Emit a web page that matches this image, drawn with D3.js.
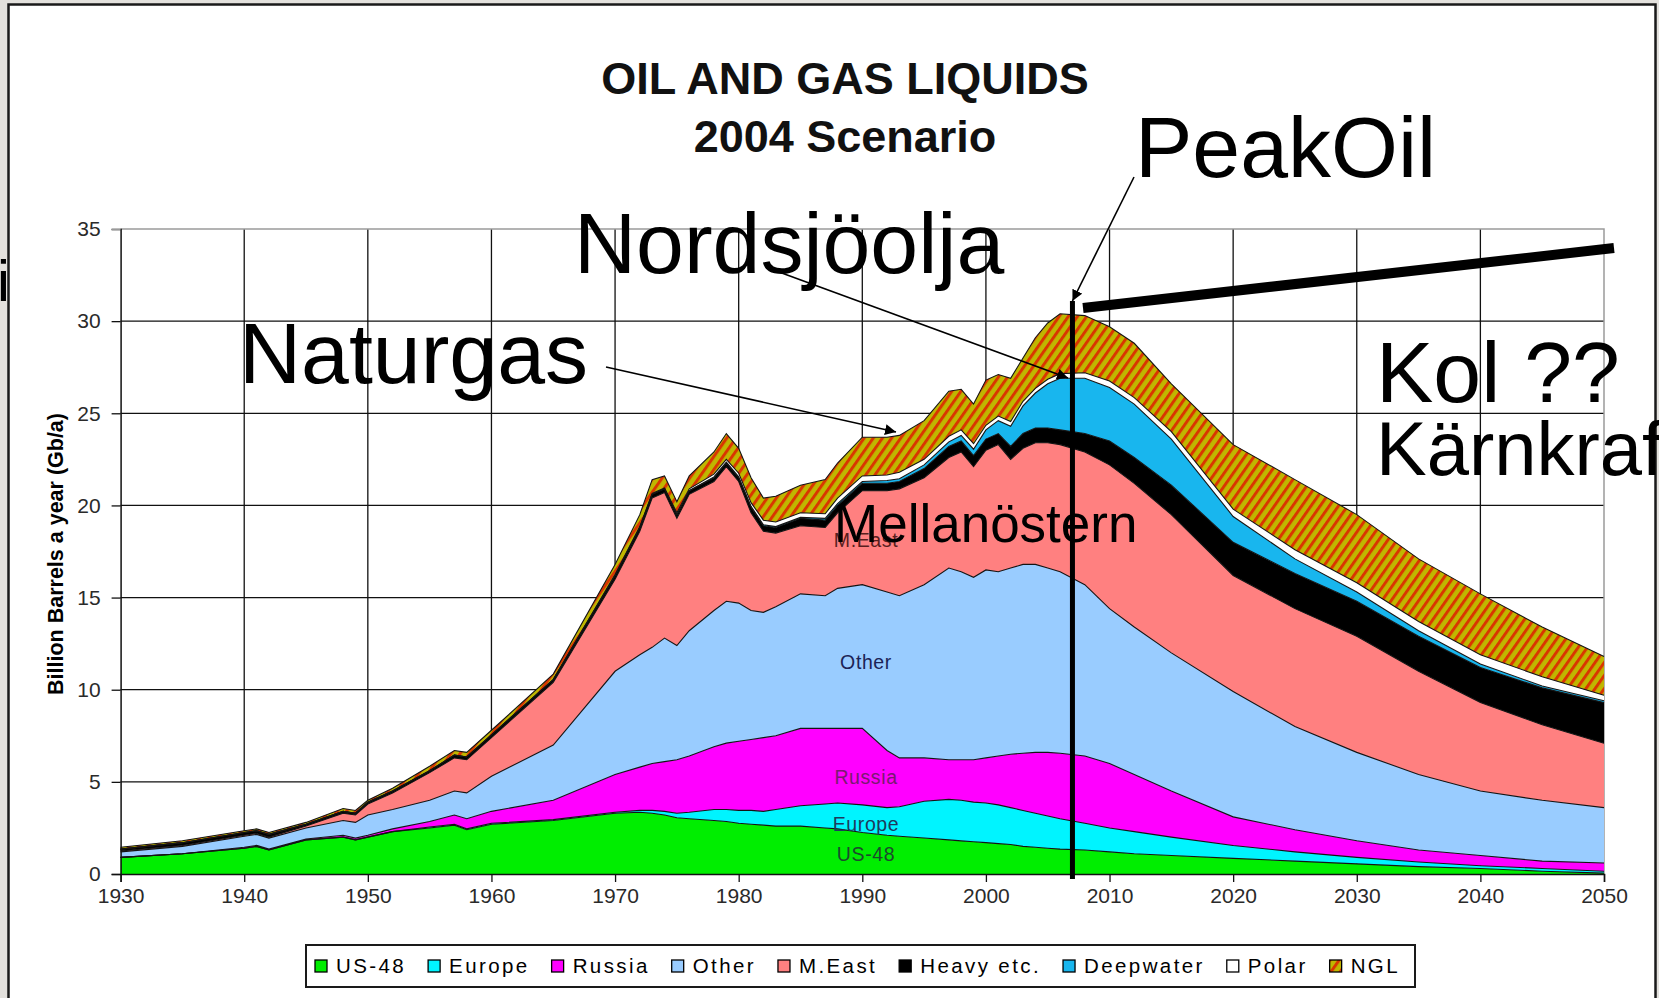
<!DOCTYPE html>
<html>
<head>
<meta charset="utf-8">
<script src="https://cdn.jsdelivr.net/npm/d3@7"></script>
<style>
  body { margin: 0; background: #e3e1dd; }
  svg { display: block; font-family: "Liberation Sans", Arial, sans-serif; }
</style>
</head>
<body>
<div id="chart"></div>
<script>
// Years (irregular steps where the curves are jagged)
const years = [1930, 1935, 1940, 1941, 1942, 1945, 1948, 1949, 1950, 1952, 1955, 1957, 1958, 1960, 1965,
    1970, 1972, 1973, 1974, 1975, 1976, 1978, 1979, 1980, 1981, 1982, 1983, 1985, 1987, 1988, 1990,
    1992, 1993, 1995, 1997, 1998, 1999, 2000, 2001, 2002, 2003, 2004, 2005, 2006, 2008, 2010, 2012,
    2015, 2020, 2025, 2030, 2035, 2040, 2045, 2050];

// Gb/a per region, bottom to top of the stack
const us48 = [0.9, 1.1, 1.4, 1.5, 1.3, 1.85, 2.0, 1.85, 2.0, 2.3, 2.5, 2.65, 2.4, 2.7, 2.9,
    3.3, 3.35, 3.3, 3.2, 3.05, 3.0, 2.9, 2.85, 2.75, 2.7, 2.65, 2.6, 2.6, 2.5, 2.45, 2.25,
    2.1, 2.05, 1.95, 1.85, 1.8, 1.75, 1.7, 1.65, 1.6, 1.5, 1.45, 1.4, 1.35, 1.3, 1.2, 1.1,
    1.0, 0.85, 0.7, 0.55, 0.4, 0.3, 0.15, 0.05];
const europe = [0, 0, 0, 0, 0, 0, 0, 0, 0, 0, 0.05, 0.05, 0.05, 0.05, 0.05,
    0.05, 0.1, 0.15, 0.2, 0.25, 0.35, 0.6, 0.65, 0.7, 0.75, 0.75, 0.9, 1.1, 1.3, 1.4, 1.5,
    1.5, 1.6, 2.0, 2.2, 2.2, 2.15, 2.15, 2.1, 2.0, 1.95, 1.85, 1.75, 1.65, 1.45, 1.3, 1.2,
    1.0, 0.7, 0.5, 0.35, 0.25, 0.15, 0.15, 0.1];
const russia = [0, 0, 0.05, 0.05, 0.05, 0.05, 0.1, 0.1, 0.1, 0.15, 0.3, 0.5, 0.55, 0.65, 1.05,
    2.05, 2.35, 2.55, 2.7, 2.9, 3.05, 3.4, 3.6, 3.75, 3.85, 4.0, 4.0, 4.2, 4.1, 4.05, 4.15,
    3.1, 2.65, 2.35, 2.15, 2.2, 2.3, 2.45, 2.65, 2.9, 3.1, 3.3, 3.45, 3.55, 3.65, 3.5, 3.1,
    2.5, 1.55, 1.2, 0.9, 0.65, 0.55, 0.4, 0.45];
const other = [0.3, 0.4, 0.6, 0.6, 0.6, 0.6, 0.8, 0.85, 1.1, 1.05, 1.15, 1.3, 1.4, 1.9, 3.0,
    5.6, 6.1, 6.3, 6.7, 6.2, 6.8, 7.4, 7.7, 7.5, 7.0, 6.8, 7.0, 7.3, 7.2, 7.6, 7.8,
    8.6, 8.8, 9.4, 10.4, 10.2, 9.9, 10.2, 10.0, 10.1, 10.25, 10.2, 10.0, 9.85, 9.3, 8.4, 8.0,
    7.5, 6.8, 5.6, 4.8, 4.1, 3.5, 3.3, 3.0];
const mEast = [0.05, 0.05, 0.05, 0.05, 0.05, 0.1, 0.4, 0.4, 0.6, 0.9, 1.5, 1.8, 1.8, 2.1, 3.4,
    5.0, 6.7, 8.1, 7.9, 6.9, 7.4, 7.0, 7.3, 6.6, 5.3, 4.4, 4.0, 3.7, 3.7, 4.1, 5.1,
    5.5, 5.8, 5.8, 6.0, 6.5, 6.0, 6.5, 6.9, 5.9, 6.3, 6.6, 6.8, 6.9, 7.2, 7.8, 7.8,
    7.5, 6.3, 6.4, 6.3, 5.6, 4.8, 4.1, 3.5];
const heavy = [0.1, 0.15, 0.15, 0.15, 0.15, 0.1, 0.1, 0.1, 0.1, 0.1, 0.1, 0.15, 0.15, 0.15, 0.15,
    0.2, 0.2, 0.2, 0.2, 0.2, 0.2, 0.2, 0.2, 0.2, 0.3, 0.3, 0.3, 0.4, 0.4, 0.4, 0.4,
    0.4, 0.4, 0.5, 0.6, 0.6, 0.6, 0.6, 0.6, 0.7, 0.8, 0.8, 0.8, 0.8, 1.0, 1.3, 1.4,
    1.6, 1.8, 1.9, 1.9, 1.9, 1.9, 2.0, 2.2];
const deepwater = [0, 0, 0, 0, 0, 0, 0, 0, 0, 0, 0, 0, 0, 0, 0,
    0, 0, 0, 0, 0, 0, 0.05, 0.05, 0.05, 0.05, 0.05, 0.05, 0.05, 0.1, 0.1, 0.1,
    0.15, 0.15, 0.2, 0.25, 0.3, 0.35, 0.5, 0.7, 1.1, 1.5, 1.9, 2.4, 2.8, 3.0, 2.9, 2.9,
    2.5, 1.4, 0.8, 0.5, 0.3, 0.2, 0.1, 0.1];
const polar = [0, 0, 0, 0, 0, 0, 0, 0, 0, 0, 0, 0, 0, 0, 0,
    0.05, 0.05, 0.05, 0.05, 0.1, 0.1, 0.15, 0.15, 0.2, 0.2, 0.25, 0.25, 0.25, 0.25, 0.3, 0.3,
    0.3, 0.35, 0.3, 0.3, 0.3, 0.3, 0.25, 0.25, 0.25, 0.25, 0.25, 0.25, 0.25, 0.3, 0.35, 0.35,
    0.4, 0.4, 0.5, 0.5, 0.5, 0.5, 0.5, 0.3];
const ngl = [0.1, 0.1, 0.1, 0.1, 0.1, 0.1, 0.15, 0.15, 0.1, 0.15, 0.25, 0.25, 0.25, 0.25, 0.3,
    0.55, 0.65, 0.75, 0.65, 0.6, 0.7, 1.2, 1.4, 1.35, 1.35, 1.2, 1.4, 1.5, 1.85, 1.9, 2.1,
    2.05, 2.0, 2.1, 2.45, 2.2, 2.15, 2.45, 2.25, 2.35, 2.35, 2.75, 3.05, 3.25, 3.1, 2.95, 2.95,
    2.6, 3.5, 3.8, 3.7, 3.4, 3.3, 2.7, 2.1];

const seriesNames = ["US-48", "Europe", "Russia", "Other", "M.East", "Heavy etc.", "Deepwater", "Polar", "NGL"];
const seriesColors = ["#00ee00", "#00f4ff", "#ff00ff", "#99ccff", "#ff8080", "#000000", "#18b6ee", "#ffffff", "url(#ngl-hatch)"];
const yTicks = [0, 5, 10, 15, 20, 25, 30, 35];
const xTicks = [1930, 1940, 1950, 1960, 1970, 1980, 1990, 2000, 2010, 2020, 2030, 2040, 2050];

class StackedAreaChart {

    constructor(_config, _data) {
        this.config = {
            parentElement: _config.parentElement,
            containerWidth: 1659,
            containerHeight: 998,
            margin: {top: 229, right: 55, bottom: 124, left: 120.6}
        }
        this.data = _data;
        this.initVis();
    }

    initVis() {
        let vis = this;

        vis.width = vis.config.containerWidth - vis.config.margin.left - vis.config.margin.right;
        vis.height = vis.config.containerHeight - vis.config.margin.top - vis.config.margin.bottom;

        vis.svg = d3.select(vis.config.parentElement).append('svg')
            .attr('width', vis.config.containerWidth)
            .attr('height', vis.config.containerHeight);

        // grey page + white panel with dark frame
        vis.svg.append('rect')
            .attr('width', vis.config.containerWidth)
            .attr('height', vis.config.containerHeight)
            .attr('fill', '#e3e1dd');
        vis.svg.append('rect')
            .attr('x', 8.5).attr('y', 4.5)
            .attr('width', 1647).attr('height', 1000)
            .attr('fill', '#fff')
            .attr('stroke', '#1a1a1a')
            .attr('stroke-width', 2.5);

        // hatch for NGL
        const defs = vis.svg.append('defs');
        const pat = defs.append('pattern')
            .attr('id', 'ngl-hatch')
            .attr('patternUnits', 'userSpaceOnUse')
            .attr('width', 7.5).attr('height', 10)
            .attr('patternTransform', 'rotate(35)');
        pat.append('rect').attr('width', 7.5).attr('height', 10).attr('fill', '#bfb700');
        pat.append('rect').attr('width', 3).attr('height', 10).attr('fill', '#d93600');

        vis.chart = vis.svg.append('g')
            .attr('transform', `translate(${vis.config.margin.left},${vis.config.margin.top})`);

        vis.xScale = d3.scaleLinear().domain([1930, 2050]).range([0, vis.width]);
        vis.yScale = d3.scaleLinear().domain([0, 35]).range([vis.height, 0]);

        vis.colorScale = d3.scaleOrdinal().domain(seriesNames).range(seriesColors);

        vis.stack = d3.stack().keys(seriesNames);

        vis.updateVis();
    }

    updateVis() {
        let vis = this;
        vis.stacked = vis.stack(vis.data);
        vis.renderVis();
    }

    renderVis() {
        let vis = this;
        const x = vis.xScale, y = vis.yScale;

        // grid
        vis.chart.append('g').selectAll('line.h')
            .data(yTicks.filter(d => d > 0 && d < 35))
            .join('line')
            .attr('x1', 0).attr('x2', vis.width)
            .attr('y1', d => y(d)).attr('y2', d => y(d))
            .attr('stroke', '#111').attr('stroke-width', 1.3);
        vis.chart.append('g').selectAll('line.v')
            .data(xTicks.filter(d => d > 1930 && d < 2050))
            .join('line')
            .attr('x1', d => x(d)).attr('x2', d => x(d))
            .attr('y1', 0).attr('y2', vis.height)
            .attr('stroke', '#111').attr('stroke-width', 1.3);
        // top and right frame in grey
        vis.chart.append('path')
            .attr('d', `M0,0H${vis.width}V${vis.height}`)
            .attr('fill', 'none').attr('stroke', '#9a9a9a').attr('stroke-width', 1.5);

        // stacked areas
        const area = d3.area()
            .x(d => x(d.data.year))
            .y0(d => y(d[0]))
            .y1(d => y(d[1]));
        const topLine = d3.line()
            .x(d => x(d.data.year))
            .y(d => y(d[1]));

        vis.chart.append('g').selectAll('path')
            .data(vis.stacked)
            .join('path')
            .attr('d', area)
            .attr('fill', d => vis.colorScale(d.key));
        vis.chart.append('g').selectAll('path')
            .data(vis.stacked)
            .join('path')
            .attr('d', topLine)
            .attr('fill', 'none')
            .attr('stroke', '#141414')
            .attr('stroke-width', 1.1);

        // axes
        const xAxis = d3.axisBottom(x).tickValues(xTicks).tickFormat(d3.format('d')).tickSize(8).tickPadding(6);
        const yAxis = d3.axisLeft(y).tickValues(yTicks).tickSize(9).tickPadding(11);
        const gx = vis.chart.append('g').attr('transform', `translate(0,${vis.height})`).call(xAxis);
        const gy = vis.chart.append('g').call(yAxis);
        [gx, gy].forEach(g => {
            g.select('.domain').attr('stroke', '#111').attr('stroke-width', 1.5);
            g.selectAll('.tick line').attr('stroke', '#111').attr('stroke-width', 1.3);
            g.selectAll('.tick text')
                .attr('fill', '#2a2a2a')
                .style('font-size', '21px')
                .style('font-family', '"Liberation Sans", Arial, sans-serif');
        });
        gy.select('.tick:last-of-type line').attr('stroke', '#9a9a9a');

        vis.svg.append('text')
            .attr('transform', 'translate(63,554) rotate(-90)')
            .attr('text-anchor', 'middle')
            .style('font-size', '21.5px')
            .style('font-weight', 'bold')
            .text('Billion Barrels a year (Gb/a)');

        // title
        vis.svg.append('text')
            .attr('x', 845).attr('y', 94)
            .attr('text-anchor', 'middle')
            .style('font-size', '45px').style('font-weight', 'bold')
            .attr('fill', '#111')
            .text('OIL AND GAS LIQUIDS');
        vis.svg.append('text')
            .attr('x', 845).attr('y', 152)
            .attr('text-anchor', 'middle')
            .style('font-size', '45px').style('font-weight', 'bold')
            .attr('fill', '#111')
            .text('2004 Scenario');

        // small in-chart labels
        const inLabels = [
            {t: 'M.East', yr: 1990.3, v: 18.1, c: '#5a1e1e'},
            {t: 'Other', yr: 1990.3, v: 11.5, c: '#1c2356'},
            {t: 'Russia', yr: 1990.3, v: 5.25, c: '#7a1a70'},
            {t: 'Europe', yr: 1990.3, v: 2.7, c: '#1d3a5c'},
            {t: 'US-48', yr: 1990.3, v: 1.05, c: '#1c4a2c'}
        ];
        vis.chart.append('g').selectAll('text')
            .data(inLabels)
            .join('text')
            .attr('x', d => x(d.yr)).attr('y', d => y(d.v))
            .attr('text-anchor', 'middle')
            .attr('dy', '0.35em')
            .attr('fill', d => d.c)
            .style('font-size', '19.5px')
            .style('letter-spacing', '0.6px')
            .text(d => d.t);

        vis.annotate();
        vis.legend();
    }

    // the big Swedish notes, lines and arrows drawn over the chart
    annotate() {
        let vis = this;
        const x = vis.xScale;
        const ox = vis.config.margin.left;

        const marker = vis.svg.select('defs').append('marker')
            .attr('id', 'arrow')
            .attr('viewBox', '0 0 10 10')
            .attr('refX', 10).attr('refY', 5)
            .attr('markerWidth', 11).attr('markerHeight', 11)
            .attr('markerUnits', 'userSpaceOnUse')
            .attr('orient', 'auto');
        marker.append('path').attr('d', 'M0,0L10,5L0,10z').attr('fill', '#000');

        // peak year line
        vis.svg.append('line')
            .attr('x1', ox + x(2007)).attr('x2', ox + x(2007))
            .attr('y1', 301).attr('y2', 879)
            .attr('stroke', '#000').attr('stroke-width', 5);
        vis.svg.append('line')
            .attr('x1', 1083).attr('y1', 308)
            .attr('x2', 1614).attr('y2', 248)
            .attr('stroke', '#000').attr('stroke-width', 10);

        const arrows = [
            [1134, 177, ox + x(2007), 301],
            [779, 272, 1068, 378],
            [606, 367, 896, 432]
        ];
        vis.svg.append('g').selectAll('line')
            .data(arrows)
            .join('line')
            .attr('x1', d => d[0]).attr('y1', d => d[1])
            .attr('x2', d => d[2]).attr('y2', d => d[3])
            .attr('stroke', '#000').attr('stroke-width', 1.6)
            .attr('marker-end', 'url(#arrow)');

        const notes = [
            {t: 'PeakOil', x: 1135, y: 177, s: 86},
            {t: 'Nordsjöolja', x: 574, y: 273, s: 86},
            {t: 'Naturgas', x: 239, y: 383, s: 86},
            {t: 'Kol ??', x: 1376, y: 402, s: 86},
            {t: 'Kärnkraft', x: 1376, y: 475, s: 76},
            {t: 'Mellanöstern', x: 834, y: 542, s: 53},
            {t: 'i', x: -3, y: 301, s: 58}
        ];
        vis.svg.append('g').selectAll('text')
            .data(notes)
            .join('text')
            .attr('x', d => d.x).attr('y', d => d.y)
            .attr('fill', '#000')
            .style('font-size', d => d.s + 'px')
            .text(d => d.t);
    }

    legend() {
        let vis = this;
        const lg = vis.svg.append('g').attr('transform', 'translate(306,945)');
        lg.append('rect')
            .attr('width', 1109).attr('height', 42)
            .attr('fill', '#fff')
            .attr('stroke', '#1a1a1a').attr('stroke-width', 2);

        let cx = 9;
        seriesNames.forEach(name => {
            const item = lg.append('g').attr('transform', `translate(${cx},0)`);
            item.append('rect')
                .attr('x', 0).attr('y', 15)
                .attr('width', 12).attr('height', 12)
                .attr('fill', vis.colorScale(name))
                .attr('stroke', '#000').attr('stroke-width', 1.3);
            const t = item.append('text')
                .attr('x', 21).attr('y', 28)
                .style('font-size', '20.5px')
                .style('letter-spacing', '2.4px')
                .text(name);
            cx += 21 + t.node().getComputedTextLength() + 22;
        });
    }
}

const table = years.map((yr, i) => ({
    year: yr,
    'US-48': us48[i],
    'Europe': europe[i],
    'Russia': russia[i],
    'Other': other[i],
    'M.East': mEast[i],
    'Heavy etc.': heavy[i],
    'Deepwater': deepwater[i],
    'Polar': polar[i],
    'NGL': ngl[i]
}));

new StackedAreaChart({parentElement: '#chart'}, table);
</script>
</body>
</html>
